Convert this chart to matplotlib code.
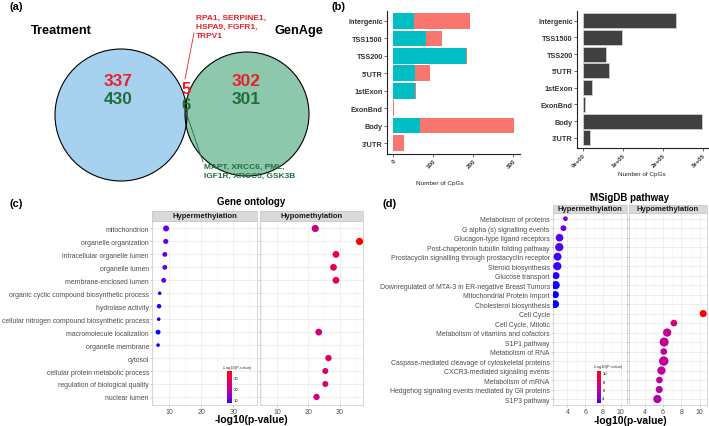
import numpy as np
import matplotlib
matplotlib.use('Agg')
import matplotlib.pyplot as plt
from matplotlib.patches import Circle
from matplotlib.colors import ListedColormap, Normalize
from matplotlib.cm import ScalarMappable

plt.rcParams['font.family'] = ['Liberation Sans', 'DejaVu Sans']

# ---- data ----
# (a) venn
treat_only = [337, 430]      # red, green
genage_only = [302, 301]
shared = [5, 6]
red_genes = ['RPA1', 'SERPINE1', 'HSPA9', 'FGFR1', 'TRPV1']
green_genes = ['MAPT', 'XRCC6', 'PML', 'IGF1R', 'XRCC5', 'GSK3B']

# (b) CpG annotation
regions = ['Intergenic', 'TSS1500', 'TSS200', "5'UTR", '1stExon', 'ExonBnd', 'Body', "3'UTR"]
hypo_cpg = [52, 83, 181, 55, 56, 0, 67, 0]
hyper_cpg = [140, 40, 3, 37, 1, 3, 235, 27]
array_cpg = [233000, 98000, 58000, 65000, 22000, 4000, 298000, 18000]

# (c) gene ontology
go_terms = ['mitochondrion', 'organelle organization', 'intracellular organelle lumen',
            'organelle lumen', 'membrane-enclosed lumen',
            'organic cyclic compound biosynthetic process', 'hydrolase activity',
            'cellular nitrogen compound biosynthetic process', 'macromolecule localization',
            'organelle membrane', 'cytosol', 'cellular protein metabolic process',
            'regulation of biological quality', 'nuclear lumen']
nan = np.nan
go_hyper = [9.0, 8.9, 8.6, 8.6, 8.25, 7.0, 6.8, 6.7, 6.5, 6.5, nan, nan, nan, nan]
go_hyper_n = [25, 18, 16, 16, 16, 9, 14, 9, 16, 9, nan, nan, nan, nan]
go_hypo = [22.2, 36.3, 28.8, 28.0, 28.8, nan, nan, nan, 23.3, nan, 26.4, 25.4, 25.4, 22.6]
go_hypo_n = [36, 36, 32, 32, 32, nan, nan, nan, 32, nan, 28, 25, 25, 28]

# (d) MSigDB
pw_terms = ['Metabolism of proteins', 'G alpha (s) signalling events',
            'Glucagon-type ligand receptors', 'Post-chaperonin tubulin folding pathway',
            'Prostacyclin signalling through prostacyclin receptor', 'Steroid biosynthesis',
            'Glucose transport', 'Downregulated of MTA-3 in ER-negative Breast Tumors',
            'Mitochondrial Protein Import', 'Cholesterol biosynthesis', 'Cell Cycle',
            'Cell Cycle, Mitotic', 'Metabolism of vitamins and cofactors', 'S1P1 pathway',
            'Metabolism of RNA', 'Caspase-mediated cleavage of cytoskeletal proteins',
            'CXCR3-mediated signaling events', 'Metabolism of mRNA',
            'Hedgehog signaling events mediated by Gli proteins', 'S1P3 pathway']
pw_hyper = [3.78, 3.56, 3.12, 3.09, 2.9, 2.87, 2.72, 2.68, 2.65, 2.62] + [nan] * 10
pw_hyper_n = [16, 25, 42, 49, 45, 49, 36, 49, 36, 45] + [nan] * 10
pw_hypo = [nan] * 10 + [10.37, 7.19, 6.46, 6.13, 6.09, 6.09, 5.84, 5.62, 5.6, 5.4]
pw_hypo_n = [nan] * 10 + [36, 32, 49, 59, 32, 64, 49, 32, 36, 49]

# ---- helpers ----
W, H = 709, 427
fig = plt.figure(figsize=(W / 100, H / 100), dpi=100)


def px_axes(x0, y0, x1, y1):
    return fig.add_axes([x0 / W, 1 - y1 / H, (x1 - x0) / W, (y1 - y0) / H])


def ftxt(x, y, s, **kw):
    kw.setdefault('ha', 'center')
    kw.setdefault('va', 'center')
    return fig.text(x / W, 1 - y / H, s, **kw)


# blue -> red gradient interpolated in Lab (like ggplot)
M = np.array([[0.4124, 0.3576, 0.1805], [0.2126, 0.7152, 0.0722], [0.0193, 0.1192, 0.9505]])
WP = np.array([0.95047, 1.0, 1.08883])


def to_lab(rgb):
    c = np.array(rgb, float)
    lin = np.where(c <= 0.04045, c / 12.92, ((c + 0.055) / 1.055) ** 2.4)
    xyz = M @ lin / WP
    f = np.where(xyz > 0.008856, np.cbrt(xyz), 7.787 * xyz + 16 / 116)
    return np.array([116 * f[1] - 16, 500 * (f[0] - f[1]), 200 * (f[1] - f[2])])


def from_lab(lab):
    fy = (lab[0] + 16) / 116
    f = np.array([fy + lab[1] / 500, fy, fy - lab[2] / 200])
    xyz = np.where(f ** 3 > 0.008856, f ** 3, (f - 16 / 116) / 7.787) * WP
    lin = np.clip(np.linalg.inv(M) @ xyz, 0, 1)
    c = np.where(lin <= 0.0031308, 12.92 * lin, 1.055 * lin ** (1 / 2.4) - 0.055)
    return np.clip(c, 0, 1)


lab_lo, lab_hi = to_lab([0, 0, 1]), to_lab([1, 0, 0])
cmap = ListedColormap([from_lab(lab_lo + t * (lab_hi - lab_lo)) for t in np.linspace(0, 1, 256)])

# ---- (a) venn ----
ax = px_axes(0, 0, 340, 200)
ax.set_xlim(0, 340)
ax.set_ylim(200, 0)
ax.axis('off')
left_c = Circle((121, 116), 66, facecolor='#A6D2F0', edgecolor='none')
right_c = Circle((247, 115), 62, facecolor='#8DC7AC', edgecolor='none')
ax.add_patch(left_c)
ax.add_patch(right_c)
lens = Circle((247, 115), 62, facecolor='#4F8F86', edgecolor='none')
ax.add_patch(lens)
lens.set_clip_path(left_c)
ax.add_patch(Circle((121, 116), 66, facecolor='none', edgecolor='black', lw=0.8))
ax.add_patch(Circle((247, 115), 62, facecolor='none', edgecolor='black', lw=0.8))

red, green = '#E8212B', '#1F6E3A'
ax.text(61, 31, 'Treatment', fontsize=9.2, fontweight='bold', ha='center', va='center')
ax.text(299, 31, 'GenAge', fontsize=9.2, fontweight='bold', ha='center', va='center')
for (cx, vals) in [(118.5, treat_only), (246.5, genage_only)]:
    ax.text(cx, 81, str(vals[0]), color=red, fontsize=12.5, fontweight='bold', ha='center', va='center')
    ax.text(cx, 99.5, str(vals[1]), color=green, fontsize=12.5, fontweight='bold', ha='center', va='center')
ax.text(186.5, 90, str(shared[0]), color=red, fontsize=12, fontweight='bold', ha='center', va='center')
ax.text(186.5, 106, str(shared[1]), color=green, fontsize=12, fontweight='bold', ha='center', va='center')

red_txt = ', '.join(red_genes[:2]) + ',\n' + ', '.join(red_genes[2:4]) + ',\n' + red_genes[4]
green_txt = ', '.join(green_genes[:3]) + ',\n' + ', '.join(green_genes[3:])
ax.text(196, 15, red_txt, color=red, fontsize=6, fontweight='bold', ha='left', va='top', linespacing=1.4)
ax.text(204, 164, green_txt, color=green, fontsize=6, fontweight='bold', ha='left', va='top', linespacing=1.4)
ax.plot([194, 185], [34, 80], color=red, lw=0.6)
ax.plot([186, 203], [113, 163], color=green, lw=0.6)

# ---- (b) CpG bars ----
yb = np.arange(len(regions))


def style_bar_axes(a):
    for s in ['top', 'right']:
        a.spines[s].set_visible(False)
    for s in ['left', 'bottom']:
        a.spines[s].set_color('#222222')
        a.spines[s].set_linewidth(0.8)
    a.set_yticks(yb)
    a.set_yticklabels(regions, fontsize=5.2, fontweight='bold', color='#333333')
    a.set_ylim(len(regions) - 0.4, -0.6)
    a.tick_params(length=2, width=0.5, pad=1, color='#333333')
    a.patch.set_alpha(0)


ax = px_axes(387, 11.5, 520, 154.5)
ax.barh(yb, hypo_cpg, height=0.9, color='#00BFC4')
ax.barh(yb, hyper_cpg, left=hypo_cpg, height=0.9, color='#F8766D')
ax.set_xlim(-15, 317)
style_bar_axes(ax)
ax.set_xticks([0, 100, 200, 300])
ax.set_xticklabels(['0', '100', '200', '300'], rotation=45, ha='right', rotation_mode='anchor',
                   fontsize=4.5, fontweight='bold', color='#333333')
ftxt(440, 183, 'Number of CpGs', fontsize=4.6, color='#222222')

ax = px_axes(577, 11.6, 709, 149)
ax.barh(yb, array_cpg, height=0.9, color='#404040', edgecolor='#D8D8D8', lw=0.5)
ax.set_xlim(-15000, 315000)
style_bar_axes(ax)
ax.set_xticks([0, 100000, 200000, 300000])
ax.set_xticklabels(['0e+00', '1e+05', '2e+05', '3e+05'], rotation=45, ha='right', rotation_mode='anchor',
                   fontsize=4.3, fontweight='bold', color='#333333')
ftxt(642, 175, 'Number of CpGs', fontsize=4.6, color='#222222')


# ---- (c), (d) dot plots ----
def dot_facet(box, strip, label, terms, vals, counts, norm, xlim, major, minor, scale, show_y):
    a = px_axes(*box)
    y = np.arange(len(terms))
    v = np.array(vals, float)
    n = np.array(counts, float)
    ok = ~np.isnan(v)
    a.scatter(v[ok], y[ok], s=n[ok] * scale, c=v[ok], cmap=cmap, norm=norm,
              edgecolors='none', zorder=3)
    a.set_xlim(*xlim)
    a.set_ylim(len(terms) - 0.4, -0.6)
    a.set_xticks(major)
    a.set_xticks(minor, minor=True)
    a.set_yticks(y)
    a.set_xticklabels([str(m) for m in major], fontsize=5, color='#4D4D4D')
    if show_y:
        a.set_yticklabels(terms, fontsize=4.95, color='#4D4D4D')
    else:
        a.set_yticklabels([])
    a.tick_params(length=1.5, width=0.4, color='#999999', pad=1)
    a.tick_params(axis='y', length=1.2, pad=1)
    a.tick_params(which='minor', length=0)
    a.grid(which='major', color='#EBEBEB', lw=0.6)
    a.grid(which='minor', axis='x', color='#F4F4F4', lw=0.4)
    a.set_axisbelow(True)
    for s in a.spines.values():
        s.set_color('#D0D0D0')
        s.set_linewidth(0.6)
    sa = px_axes(box[0], strip[0], box[2], strip[1])
    sa.set_facecolor('#D9D9D9')
    sa.set_xticks([])
    sa.set_yticks([])
    for s in sa.spines.values():
        s.set_color('#C8C8C8')
        s.set_linewidth(0.5)
    sa.text(0.5, 0.5, label, transform=sa.transAxes, ha='center', va='center',
            fontsize=5.5, fontweight='bold', color='#1A1A1A')


def add_cbar(box, ticks, label_xy):
    cax = px_axes(*box)
    cb = fig.colorbar(ScalarMappable(norm=norm, cmap=cmap), cax=cax)
    cb.set_ticks(ticks)
    cb.ax.tick_params(labelsize=3, length=0, pad=1)
    cb.outline.set_visible(False)
    ftxt(label_xy[0], label_xy[1], '-Log10(P-value)', fontsize=3, ha='left', color='#333333')


all_go = np.array(go_hyper + go_hypo, float)
norm = Normalize(np.nanmin(all_go), np.nanmax(all_go))
go_args = dict(norm=norm, xlim=(4.6, 37.4), major=[10, 20, 30], minor=[5, 15, 25, 35], scale=0.75)
dot_facet((152, 221.7, 257, 405.7), (212.3, 221.7), 'Hypermethylation', go_terms, go_hyper, go_hyper_n,
          show_y=True, **go_args)
dot_facet((260, 221.7, 363, 405.7), (212.3, 221.7), 'Hypomethylation', go_terms, go_hypo, go_hypo_n,
          show_y=False, **go_args)
add_cbar((227, 372, 232, 404), [10, 20, 30], (222.5, 368.5))
ftxt(251, 202.5, 'Gene ontology', fontsize=7, fontweight='bold')
ftxt(251, 420, '-log10(p-value)', fontsize=7.5, fontweight='bold')

all_pw = np.array(pw_hyper + pw_hypo, float)
norm = Normalize(np.nanmin(all_pw), np.nanmax(all_pw))
pw_args = dict(norm=norm, xlim=(2.35, 10.75), major=[4, 6, 8, 10], minor=[3, 5, 7, 9], scale=0.72)
dot_facet((552.7, 214, 627.3, 405.7), (205.5, 214), 'Hypermethylation', pw_terms, pw_hyper, pw_hyper_n,
          show_y=True, **pw_args)
dot_facet((629.3, 214, 706.7, 405.7), (205.5, 214), 'Hypomethylation', pw_terms, pw_hypo, pw_hypo_n,
          show_y=False, **pw_args)
add_cbar((596.7, 372.3, 601, 404.3), [4, 6, 8, 10], (594, 366.7))
ftxt(630, 198, 'MSigDB pathway', fontsize=7, fontweight='bold')
ftxt(630, 421.5, '-log10(p-value)', fontsize=7.5, fontweight='bold')

# panel letters
for lab, x, y in [('(a)', 16, 6.5), ('(b)', 338, 6.5), ('(c)', 16, 204.5), ('(d)', 390, 204.5)]:
    ftxt(x, y, lab, fontsize=8, fontweight='bold')

fig.savefig('out.png', dpi=100)
